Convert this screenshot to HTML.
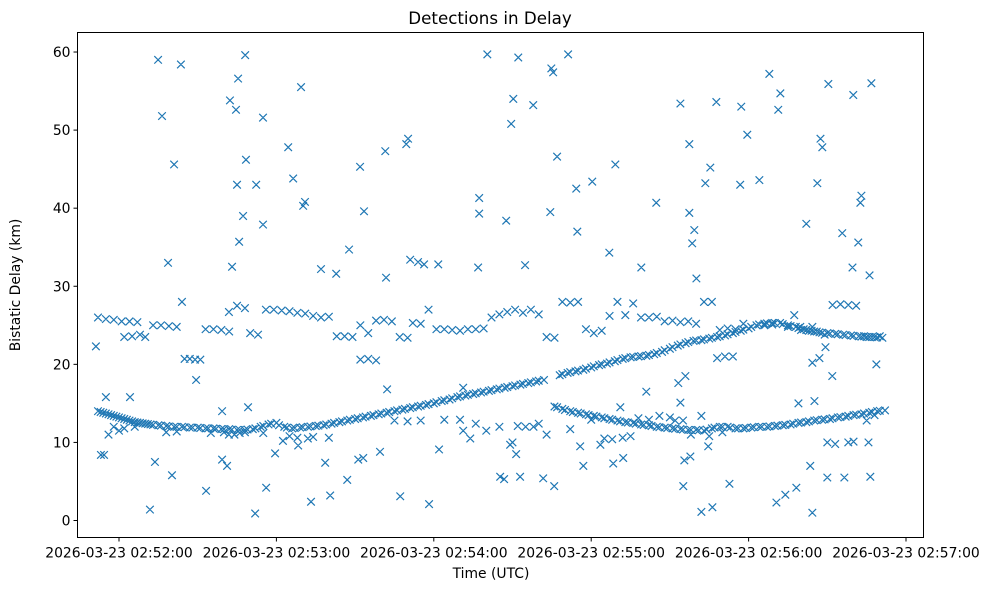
<!DOCTYPE html>
<html><head><meta charset="utf-8"><style>
body{margin:0;background:#fff;}
svg text{font-family:"DejaVu Sans","Liberation Sans",sans-serif;fill:#000;}
</style></head><body>
<svg id="chart" width="987" height="590" viewBox="0 0 987 590" xmlns="http://www.w3.org/2000/svg">
<rect width="987" height="590" fill="#fff"/>
<text x="490" y="24" font-size="16.7" text-anchor="middle">Detections in Delay</text>
<text x="491" y="578" font-size="13.9" text-anchor="middle">Time (UTC)</text>
<text transform="translate(20,285) rotate(-90)" font-size="13.9" text-anchor="middle">Bistatic Delay (km)</text>
<g id="marks"></g>
<g id="axes"></g>
<rect x="77.5" y="32.5" width="846" height="505" fill="none" stroke="#000" stroke-width="1"/>
</svg>
<script>
// time in seconds after 02:51:00 UTC, delay in km
const xTicks = [60,120,180,240,300,360];
const xTickLabels = ["2026-03-23 02:52:00","2026-03-23 02:53:00","2026-03-23 02:54:00","2026-03-23 02:55:00","2026-03-23 02:56:00","2026-03-23 02:57:00"];
const yTicks = [0,10,20,30,40,50,60];
const trackRising = [[52,14],[53,13.9],[54,13.8],[55,13.7],[56,13.6],[57,13.5],[58,13.4],[59,13.3],[60,13.2],[61,13.1],[62,13],[63,12.9],[64,12.8],[65,12.7],[66,12.6],[67,12.55],[68,12.5],[69,12.45],[70,12.4],[71,12.35],[72,12.3],[73,12.25],[75,12.2],[76,12.15],[78,12.1],[79,12.05],[81,12],[82,12],[84,12],[85,11.95],[87,11.9],[88,11.9],[90,11.9],[91,11.85],[93,11.8],[94,11.8],[96,11.8],[97,11.75],[99,11.7],[100,11.7],[102,11.7],[103,11.65],[105,11.6],[106,11.6],[108,11.6],[109,11.65],[111,11.7],[112,11.8],[114,12],[115,12.1],[117,12.3],[118,12.4],[120,12.5],[121,12.2],[123,12],[124,11.9],[126,11.8],[127,11.85],[129,11.9],[130,11.95],[132,12],[133,12.05],[135,12.1],[136,12.15],[138,12.2],[139,12.3],[141,12.4],[142,12.5],[144,12.6],[145,12.7],[147,12.8],[148,12.9],[150,13],[151,13.1],[153,13.2],[154,13.3],[156,13.4],[157,13.5],[159,13.6],[160,13.7],[162,13.8],[163,13.9],[165,14],[166,14.1],[168,14.2],[169,14.3],[171,14.4],[172,14.5],[174,14.6],[175,14.7],[177,14.8],[178,14.9],[180,15],[181,15.15],[183,15.3],[184,15.4],[186,15.5],[187,15.65],[189,15.8],[190,15.9],[192,16],[193,16.1],[195,16.2],[196,16.3],[198,16.4],[199,16.5],[201,16.6],[202,16.7],[204,16.8],[205,16.9],[207,17],[208,17.1],[210,17.2],[211,17.3],[213,17.4],[214,17.5],[216,17.6],[217,17.7],[219,17.8],[220,17.9],[222,18],[228,18.6],[229,18.75],[231,18.9],[232,19],[234,19.1],[235,19.2],[237,19.3],[238,19.45],[240,19.6],[241,19.75],[243,19.9],[244,20],[246,20.1],[247,20.25],[249,20.4],[250,20.55],[252,20.7],[253,20.8],[255,20.9],[256,20.95],[258,21],[259,21.05],[261,21.1],[262,21.2],[264,21.3],[265,21.45],[267,21.6],[268,21.8],[270,22],[271,22.2],[273,22.4],[274,22.55],[276,22.7],[277,22.85],[279,23],[280,23.05],[282,23.1],[283,23.2],[285,23.3],[286,23.4],[288,23.5],[289,23.6],[291,23.7],[292,23.85],[294,24],[295,24.15],[297,24.3],[298,24.45],[300,24.6],[301,24.8],[303,25],[304,25.1],[306,25.2],[307,25.25],[309,25.3],[310,25.3],[312,25.3],[313,25.15],[315,25],[316,24.9],[318,24.8],[319,24.65],[321,24.5],[322,24.4],[324,24.3],[325,24.2],[327,24.1],[328,24.05],[330,24],[331,23.95],[333,23.9],[334,23.85],[336,23.8],[337,23.75],[339,23.7],[340,23.65],[342,23.6],[343,23.55],[345,23.5],[346,23.5],[348,23.5],[349,23.45],[351,23.4]];
const trackFalling = [[226,14.6],[227,14.5],[229,14.3],[230,14.15],[232,14],[233,13.9],[235,13.8],[236,13.7],[238,13.6],[239,13.5],[241,13.4],[242,13.3],[244,13.2],[245,13.1],[247,13],[248,12.9],[250,12.8],[251,12.7],[253,12.6],[254,12.55],[256,12.5],[257,12.4],[259,12.3],[260,12.25],[262,12.2],[263,12.1],[265,12],[266,11.95],[268,11.9],[269,11.85],[271,11.8],[272,11.75],[274,11.7],[275,11.65],[277,11.6],[278,11.6],[280,11.6],[281,11.55],[283,11.5],[284,11.65],[286,11.8],[287,11.9],[289,12],[290,12],[292,12],[293,11.9],[295,11.8],[296,11.8],[298,11.8],[299,11.85],[301,11.9],[302,11.95],[304,12],[305,12],[307,12],[308,12.05],[310,12.1],[311,12.15],[313,12.2],[314,12.25],[316,12.3],[317,12.4],[319,12.5],[320,12.55],[322,12.6],[323,12.7],[325,12.8],[326,12.85],[328,12.9],[329,12.95],[331,13],[332,13.1],[334,13.2],[335,13.25],[337,13.3],[338,13.4],[340,13.5],[341,13.55],[343,13.6],[344,13.7],[346,13.8],[347,13.9],[349,14],[350,14.05],[352,14.1]];
const bandUpper = [[52,26],[55,25.8],[58,25.7],[61,25.5],[64,25.5],[67,25.4],[62,23.5],[65,23.6],[68,23.8],[70,23.5],[73,25],[76,25],[79,24.9],[82,24.8],[85,20.7],[87,20.7],[89,20.6],[91,20.6],[93,24.5],[96,24.5],[99,24.4],[102,24.2],[105,27.5],[108,27.2],[110,24],[113,23.8],[116,27],[119,27],[122,26.9],[125,26.8],[128,26.6],[131,26.5],[134,26.2],[137,26],[140,26.1],[143,23.6],[146,23.6],[149,23.5],[152,25],[155,24],[158,25.6],[161,25.7],[164,25.5],[167,23.5],[170,23.4],[172,25.3],[175,25.2],[178,27],[181,24.5],[184,24.5],[187,24.4],[190,24.3],[193,24.5],[196,24.5],[199,24.6],[202,26],[205,26.4],[208,26.7],[211,27],[214,26.6],[217,27],[220,26.4],[223,23.5],[226,23.4],[229,28],[232,27.9],[235,28],[238,24.5],[241,24],[244,24.3],[247,26.2],[250,28],[253,26.3],[256,27.8],[259,26],[262,26],[265,26.1],[268,25.5],[271,25.6],[274,25.4],[277,25.5],[280,25.2],[283,28],[286,28],[289,24.4],[292,24.6],[295,24.5],[298,25.2],[306,25],[309,25.1],[315,24.8],[320,24.4],[323,24.3],[326,24.2],[329,23.8],[332,27.6],[335,27.7],[338,27.6],[341,27.5],[344,23.6],[347,23.5],[350,23.6],[152,20.6],[155,20.7],[158,20.5],[288,20.8],[291,21],[294,21]];
const clutterLow = [[78,11.3],[82,11.4],[95,11.2],[100,11.3],[115,11.2],[132,10.5],[140,10.6],[165,12.8],[190,12.9],[200,11.5],[210,10],[215,12],[218,12],[223,11],[232,11.7],[245,10.5],[255,10.8],[262,12.9],[270,13.2],[275,12.8],[285,10.8],[290,11.3],[330,10],[333,9.8],[340,10.1],[345,12.8],[348,13.5],[56,11],[58,12],[60,11.5],[62,11.8],[66,12],[104,11],[106,11.2],[108,11.3],[125,10.8],[128,10.6],[134,10.7],[170,12.7],[175,12.8],[184,12.9],[196,12.4],[205,12],[212,12.1],[220,12.4],[240,12.9],[248,10.4],[252,10.6],[258,13.1],[266,13.4],[272,12.8],[278,11],[282,13.4]];
const outliers = [[51.2,22.3],[53.1,8.4],[54.3,8.4],[55,15.8],[71.8,1.4],[73.7,7.5],[74.9,59],[76.4,51.8],[78.7,33],[80.2,5.8],[81,45.6],[83.6,58.4],[84,28],[89.4,18],[93.2,3.8],[99.3,7.8],[101.2,7],[102.3,53.8],[103.1,32.5],[104.6,52.6],[105,43],[105.4,56.6],[105.8,35.7],[107.3,39],[108.1,59.6],[108.4,46.2],[111.9,0.9],[112.3,43],[114.9,51.6],[114.9,37.9],[116.1,4.2],[119.5,8.6],[124.5,47.8],[126.4,43.8],[129.4,55.5],[130.2,40.3],[130.9,40.8],[133.2,2.4],[137,32.2],[138.6,7.4],[140.5,3.2],[142.8,31.6],[147,5.2],[147.7,34.7],[151.2,7.8],[151.9,45.3],[153.4,39.6],[153.1,8],[159.5,8.8],[161.5,47.3],[161.8,31.1],[162.2,16.8],[167.2,3.1],[169.5,48.2],[170.2,48.9],[171,33.4],[174,33.1],[176.3,32.8],[178.2,2.1],[181.7,32.8],[182,9.1],[191.2,17],[196.9,32.4],[197.3,41.3],[197.3,39.3],[200.4,59.7],[205.3,5.6],[206.8,5.3],[207.6,38.4],[209.5,50.8],[210.3,54],[212.2,59.3],[214.8,32.7],[217.9,53.2],[221.7,5.4],[224.4,39.5],[224.8,57.9],[225.5,57.4],[225.9,4.4],[227,46.6],[231.2,59.7],[234.3,42.5],[234.7,37],[237,7],[240.4,43.4],[246.9,34.3],[248.4,7.3],[249.2,45.6],[252.2,8],[259.1,32.4],[261,16.5],[264.8,40.7],[273.2,17.6],[274,53.4],[275.1,4.4],[277.4,39.4],[277.4,48.2],[278.5,35.5],[279.3,37.2],[280.1,31],[282,1.1],[283.5,43.2],[285.4,45.2],[286.2,1.7],[287.7,53.6],[292.7,4.7],[296.8,43],[297.2,53],[299.5,49.4],[304.1,43.6],[307.9,57.2],[310.6,2.3],[311.3,52.6],[312.1,54.7],[314,3.3],[318.2,4.2],[322,38],[323.5,7],[324.3,1],[325.1,15.3],[326.2,43.2],[327.4,48.9],[328.1,47.8],[330.4,55.9],[330,5.5],[335.7,36.8],[336.5,5.5],[339.6,32.4],[339.9,54.5],[341.8,35.6],[342.6,40.7],[343,41.6],[346.1,31.4],[346.4,5.6],[346.8,56],[348.7,20],[345.7,10],[338,10],[319,15],[317.4,26.3],[327,20.8],[324.3,20.2],[324.3,24.8],[319.7,24.8],[329.3,22.2],[331.9,18.5],[274,15.1],[275.9,18.5],[284.6,9.5],[277.8,8.2],[275.5,7.7],[251.1,14.5],[243.5,9.7],[235.8,9.5],[209.1,9.7],[211.4,8.5],[212.9,5.6],[193.9,10.5],[191.2,11.5],[128.3,9.6],[122.5,10.2],[109.2,14.5],[101.9,11],[99.3,14],[101.9,26.7],[64.2,15.8]];

const L=77.5, R=923.5, T=32.5, B=537.5;
function xScale(t){ return 119 + (t-60)*157.4/60; }
function yScale(d){ return 520.5 - d*7.808; }
const NS="http://www.w3.org/2000/svg";
const marks=document.getElementById('marks');
const axes=document.getElementById('axes');
function drawSeries(arr,name){
  const g=document.createElementNS(NS,'g');
  
  
  let d='';
  arr.forEach(p=>{
    const x=xScale(p[0]), y=yScale(p[1]), s=3.8;
    d+=`M${x-s},${y-s}L${x+s},${y+s}M${x-s},${y+s}L${x+s},${y-s}`;
  });
  const path=document.createElementNS(NS,'path');
  path.setAttribute('d',d);
  path.setAttribute('stroke','#1f77b4');
  path.setAttribute('stroke-width','1.2');
  path.setAttribute('fill','none');
  
  
  g.appendChild(path);
  marks.appendChild(g);
}
drawSeries(bandUpper,'upper-band-detections');
drawSeries(clutterLow,'low-clutter-detections');
drawSeries(trackRising,'rising-track-detections');
drawSeries(trackFalling,'falling-track-detections');
drawSeries(outliers,'outlier-detections');

xTicks.forEach((t,i)=>{
  const x=xScale(t);
  const ln=document.createElementNS(NS,'line');
  ln.setAttribute('x1',x);ln.setAttribute('x2',x);ln.setAttribute('y1',B);ln.setAttribute('y2',B+4);
  ln.setAttribute('stroke','#000');
  
  
  axes.appendChild(ln);
  const tx=document.createElementNS(NS,'text');
  tx.setAttribute('x',x);tx.setAttribute('y',B+20);tx.setAttribute('font-size','13.9');tx.setAttribute('text-anchor','middle');
  tx.textContent=xTickLabels[i];
  
  
  axes.appendChild(tx);
});
yTicks.forEach(v=>{
  const y=yScale(v);
  const ln=document.createElementNS(NS,'line');
  ln.setAttribute('x1',L-4);ln.setAttribute('x2',L);ln.setAttribute('y1',y);ln.setAttribute('y2',y);
  ln.setAttribute('stroke','#000');
  
  
  axes.appendChild(ln);
  const tx=document.createElementNS(NS,'text');
  tx.setAttribute('x',L-7);tx.setAttribute('y',y+5);tx.setAttribute('font-size','13.9');tx.setAttribute('text-anchor','end');
  tx.textContent=v;
  
  
  axes.appendChild(tx);
});
</script>
</body></html>
